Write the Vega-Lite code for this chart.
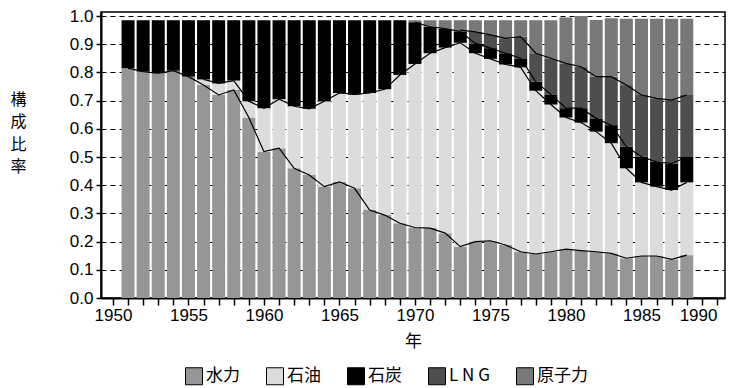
{
  "$schema": "https://vega.github.io/schema/vega-lite/v6.json",
  "width": 624,
  "height": 286,
  "autosize": {"type": "none"},
  "padding": {"left": 101, "top": 12, "right": 7, "bottom": 90},
  "background": "white",
  "config": {
    "view": {"stroke": "black", "strokeWidth": 1.5},
    "font": "Liberation Sans"
  },
  "data": {
    "values": [
      {"year": 1951, "水力": 0.815, "石油": 0.0, "石炭": 0.170, "LNG": 0.0, "原子力": 0.0},
      {"year": 1952, "水力": 0.803, "石油": 0.0, "石炭": 0.182, "LNG": 0.0, "原子力": 0.0},
      {"year": 1953, "水力": 0.797, "石油": 0.0, "石炭": 0.188, "LNG": 0.0, "原子力": 0.0},
      {"year": 1954, "水力": 0.806, "石油": 0.0, "石炭": 0.179, "LNG": 0.0, "原子力": 0.0},
      {"year": 1955, "水力": 0.785, "石油": 0.0, "石炭": 0.200, "LNG": 0.0, "原子力": 0.0},
      {"year": 1956, "水力": 0.755, "石油": 0.020, "石炭": 0.210, "LNG": 0.0, "原子力": 0.0},
      {"year": 1957, "水力": 0.720, "石油": 0.041, "石炭": 0.224, "LNG": 0.0, "原子力": 0.0},
      {"year": 1958, "水力": 0.738, "石油": 0.033, "石炭": 0.214, "LNG": 0.0, "原子力": 0.0},
      {"year": 1959, "水力": 0.640, "石油": 0.058, "石炭": 0.287, "LNG": 0.0, "原子力": 0.0},
      {"year": 1960, "水力": 0.519, "石油": 0.154, "石炭": 0.312, "LNG": 0.0, "原子力": 0.0},
      {"year": 1961, "水力": 0.531, "石油": 0.174, "石炭": 0.280, "LNG": 0.0, "原子力": 0.0},
      {"year": 1962, "水力": 0.460, "石油": 0.220, "石炭": 0.305, "LNG": 0.0, "原子力": 0.0},
      {"year": 1963, "水力": 0.436, "石油": 0.235, "石炭": 0.314, "LNG": 0.0, "原子力": 0.0},
      {"year": 1964, "水力": 0.395, "石油": 0.303, "石炭": 0.287, "LNG": 0.0, "原子力": 0.0},
      {"year": 1965, "水力": 0.412, "石油": 0.315, "石炭": 0.258, "LNG": 0.0, "原子力": 0.0},
      {"year": 1966, "水力": 0.389, "石油": 0.333, "石炭": 0.263, "LNG": 0.0, "原子力": 0.0},
      {"year": 1967, "水力": 0.312, "石油": 0.415, "石炭": 0.258, "LNG": 0.0, "原子力": 0.0},
      {"year": 1968, "水力": 0.294, "石油": 0.446, "石炭": 0.245, "LNG": 0.0, "原子力": 0.0},
      {"year": 1969, "水力": 0.265, "石油": 0.526, "石炭": 0.194, "LNG": 0.0, "原子力": 0.0},
      {"year": 1970, "水力": 0.250, "石油": 0.580, "石炭": 0.148, "LNG": 0.0, "原子力": 0.007},
      {"year": 1971, "水力": 0.248, "石油": 0.620, "石炭": 0.094, "LNG": 0.0, "原子力": 0.023},
      {"year": 1972, "水力": 0.230, "石油": 0.658, "石炭": 0.067, "LNG": 0.0, "原子力": 0.030},
      {"year": 1973, "水力": 0.182, "石油": 0.723, "石炭": 0.040, "LNG": 0.005, "原子力": 0.035},
      {"year": 1974, "水力": 0.200, "石油": 0.668, "石炭": 0.035, "LNG": 0.041, "原子力": 0.041},
      {"year": 1975, "水力": 0.203, "石油": 0.645, "石炭": 0.038, "LNG": 0.047, "原子力": 0.052},
      {"year": 1976, "水力": 0.188, "石油": 0.640, "石炭": 0.040, "LNG": 0.053, "原子力": 0.064},
      {"year": 1977, "水力": 0.164, "石油": 0.654, "石炭": 0.032, "LNG": 0.077, "原子力": 0.058},
      {"year": 1978, "水力": 0.156, "石油": 0.579, "石炭": 0.032, "LNG": 0.101, "原子力": 0.117},
      {"year": 1979, "水力": 0.164, "石油": 0.522, "石炭": 0.036, "LNG": 0.128, "原子力": 0.135},
      {"year": 1980, "水力": 0.173, "石油": 0.467, "石炭": 0.033, "LNG": 0.159, "原子力": 0.163},
      {"year": 1981, "水力": 0.168, "石油": 0.454, "石炭": 0.051, "LNG": 0.147, "原子力": 0.180},
      {"year": 1982, "水力": 0.164, "石油": 0.426, "石炭": 0.047, "LNG": 0.148, "原子力": 0.201},
      {"year": 1983, "水力": 0.158, "石油": 0.391, "石炭": 0.064, "LNG": 0.172, "原子力": 0.207},
      {"year": 1984, "水力": 0.141, "石油": 0.319, "石炭": 0.077, "LNG": 0.218, "原子力": 0.235},
      {"year": 1985, "水力": 0.149, "石油": 0.261, "石炭": 0.091, "LNG": 0.219, "原子力": 0.270},
      {"year": 1986, "水力": 0.149, "石油": 0.246, "石炭": 0.088, "LNG": 0.225, "原子力": 0.282},
      {"year": 1987, "水力": 0.137, "石油": 0.246, "石炭": 0.094, "LNG": 0.225, "原子力": 0.288},
      {"year": 1988, "水力": 0.152, "石油": 0.258, "石炭": 0.090, "LNG": 0.220, "原子力": 0.270}
    ]
  },
  "transform": [
    {"fold": ["水力", "石油", "石炭", "LNG", "原子力"], "as": ["source", "value"]},
    {"calculate": "indexof(['水力','石油','石炭','LNG','原子力'], datum.source)", "as": "k"}
  ],
  "layer": [
    {
      "mark": {"type": "bar", "size": 13},
      "encoding": {
        "x": {
          "field": "year",
          "type": "quantitative",
          "title": "年",
          "scale": {"domain": [1949.54, 1990.2], "nice": false, "zero": false},
          "axis": {
            "values": [1950,1951,1952,1953,1954,1955,1956,1957,1958,1959,1960,1961,1962,1963,1964,1965,1966,1967,1968,1969,1970,1971,1972,1973,1974,1975,1976,1977,1978,1979,1980,1981,1982,1983,1984,1985,1986,1987,1988,1989,1990],
            "format": "d",
            "labelExpr": "datum.value % 5 === 0 ? datum.label : ''",
            "labelOverlap": false,
            "labelFlush": false,
            "labelAlign": {"condition": {"test": "datum.value == 1990", "value": "right"}, "value": "center"},
            "grid": false,
            "domainColor": "black",
            "domainWidth": 2,
            "tickColor": "black",
            "tickWidth": 1.5,
            "tickSize": 7,
            "labelFontSize": 17,
            "labelColor": "black",
            "labelPadding": 2,
            "titleFont": "Noto Sans CJK JP",
            "titleFontSize": 17,
            "titleFontWeight": "normal",
            "titleColor": "black",
            "titlePadding": 10
          }
        },
        "y": {
          "field": "value",
          "type": "quantitative",
          "stack": "zero",
          "title": ["構", "成", "比", "率"],
          "scale": {"domain": [0, 1.0142], "nice": false},
          "axis": {
            "values": [0, 0.1, 0.2, 0.3, 0.4, 0.5, 0.6, 0.7, 0.8, 0.9, 1.0],
            "format": ".1f",
            "labelOverlap": false,
            "titleAngle": 0,
            "titleX": -83,
            "titleY": 79,
            "titleAlign": "center",
            "titleBaseline": "top",
            "titleFont": "Noto Sans CJK JP",
            "titleFontSize": 16,
            "titleFontWeight": "normal",
            "titleLineHeight": 22.5,
            "titleColor": "black",
            "grid": true,
            "gridColor": "black",
            "gridDash": [5, 4],
            "gridWidth": 1,
            "gridOpacity": 1,
            "domainColor": "black",
            "domainWidth": 2,
            "tickColor": "black",
            "tickWidth": 1.5,
            "tickSize": 5,
            "labelFontSize": 17,
            "labelColor": "black",
            "labelPadding": 3
          }
        },
        "color": {
          "field": "source",
          "type": "nominal",
          "sort": ["水力", "石油", "石炭", "LNG", "原子力"],
          "scale": {
            "domain": ["水力", "石油", "石炭", "LNG", "原子力"],
            "range": ["#969696", "#dcdcdc", "#000000", "#4e4e4e", "#787878"]
          },
          "legend": {
            "orient": "none",
            "legendX": 84,
            "legendY": 355,
            "direction": "horizontal",
            "title": null,
            "symbolType": "square",
            "symbolSize": 289,
            "symbolStrokeColor": "black",
            "symbolStrokeWidth": 1,
            "symbolOpacity": 1,
            "labelFont": "Noto Sans CJK JP",
            "labelFontSize": 17,
            "labelColor": "black",
            "labelOffset": 3,
            "labelExpr": "datum.label == 'LNG' ? 'L N G' : datum.label",
            "columnPadding": 24,
            "padding": 0
          }
        },
        "order": {"field": "k", "type": "quantitative"}
      }
    },
    {
      "transform": [
        {"stack": "value", "groupby": ["year"], "sort": [{"field": "k", "order": "ascending"}], "as": ["v0", "v1"]},
        {"filter": "datum.source == '水力' || (datum.source == '石油' && datum.year >= 1956) || (datum.source == '石炭' && datum.year >= 1970) || (datum.source == 'LNG' && datum.year >= 1973)"}
      ],
      "mark": {"type": "line", "color": "black", "strokeWidth": 1.2},
      "encoding": {
        "x": {
          "field": "year",
          "type": "quantitative",
          "title": "年",
          "axis": {
            "values": [1950,1951,1952,1953,1954,1955,1956,1957,1958,1959,1960,1961,1962,1963,1964,1965,1966,1967,1968,1969,1970,1971,1972,1973,1974,1975,1976,1977,1978,1979,1980,1981,1982,1983,1984,1985,1986,1987,1988,1989,1990],
            "format": "d",
            "labelExpr": "datum.value % 5 === 0 ? datum.label : ''",
            "labelOverlap": false,
            "labelFlush": false,
            "labelAlign": {"condition": {"test": "datum.value == 1990", "value": "right"}, "value": "center"},
            "grid": false
          }
        },
        "y": {
          "field": "v1",
          "type": "quantitative",
          "title": ["構", "成", "比", "率"],
          "axis": {
            "values": [0, 0.1, 0.2, 0.3, 0.4, 0.5, 0.6, 0.7, 0.8, 0.9, 1.0],
            "format": ".1f",
            "labelOverlap": false,
            "grid": true
          }
        },
        "detail": {"field": "source", "type": "nominal"}
      }
    }
  ]
}
